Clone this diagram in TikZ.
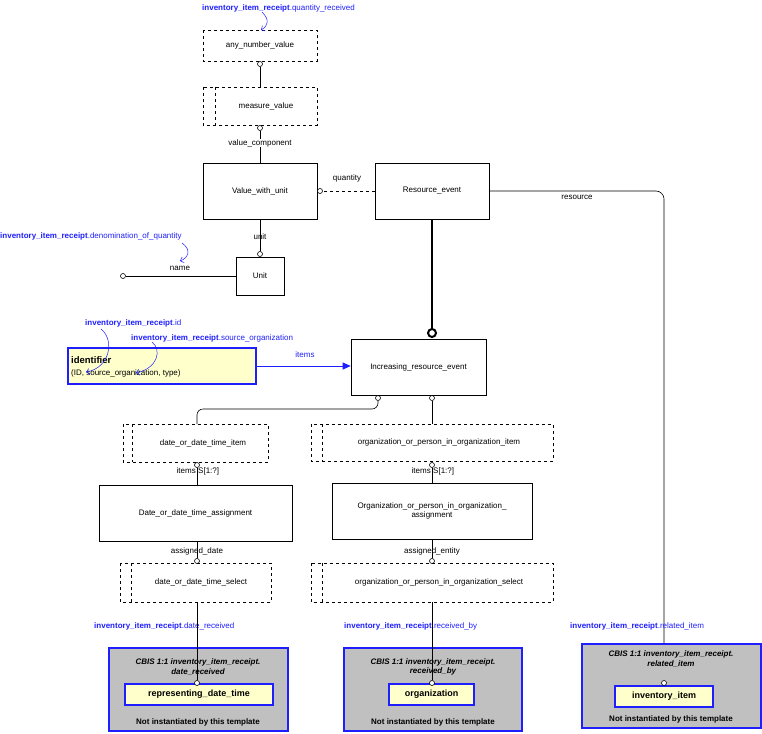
\documentclass[tikz,border=0pt]{standalone}
\usepackage{fontspec}
\setmainfont{Liberation Sans}
\usetikzlibrary{arrows.meta}
\definecolor{lyel}{RGB}{255,255,204}
\definecolor{bl}{RGB}{30,30,255}
\definecolor{gr}{RGB}{192,192,192}
\begin{document}
\begin{tikzpicture}[x=1pt,y=-1pt,
  every node/.style={font=\fontsize{8}{9.5}\selectfont, inner sep=0pt},
  ent/.style={draw, fill=white, line width=0.6pt},
  sel/.style={draw, dashed, line width=0.6pt},
  lab/.style={font=\fontsize{8}{9.5}\selectfont},
  blab/.style={font=\fontsize{8}{9.5}\selectfont, text=bl, anchor=west},
  oc/.style={draw, fill=white, circle, minimum size=5pt, inner sep=0pt, line width=0.6pt},
  ln/.style={line width=0.6pt},
  barr/.style={bl, line width=0.5pt, -{Straight Barb[length=3pt]}},
  cbis/.style={draw=bl, fill=gr, line width=1.2pt},
  yb/.style={draw=bl, fill=lyel, line width=1.2pt}]
\useasboundingbox (0,0) rectangle (762,733);
% selects / entities
\draw[sel] (203,30) rectangle (317,61); \node (anv) at (260,45.5) {any\_number\_value};
\draw[sel] (203,87) rectangle (317,125); \draw[dashed,ln] (215,87) -- (215,125);
\node (mv) at (266,106) {measure\_value};
\node[ent, minimum width=114pt, minimum height=56pt] (vwu) at (260,191) {Value\_with\_unit};
\node[ent, minimum width=114pt, minimum height=56pt] (re) at (432,191) {Resource\_event};
\node[ent, minimum width=48pt, minimum height=38pt] (unit) at (260,276) {Unit};
\node[ent, minimum width=135pt, minimum height=56pt] (ire) at (418.5,367) {Increasing\_resource\_event};
\node[yb, minimum width=188pt, minimum height=36pt] (id) at (162,366) {};
\node[anchor=west, font=\bfseries\fontsize{9.5}{11}\selectfont] at (71,360) {identifier};
\node[anchor=west] at (71,373) {(ID, source\_organization, type)};
% top connectors
\node[oc] (c1) at (260,64) {};
\draw[ln] (c1) -- (260,87);
\node[oc] (c2) at (260,128) {};
\draw[ln] (c2) -- (vwu.north);
\node[lab, fill=white] at (260,143) {value\_component};
\node[oc] (c3) at (320,191) {};
\draw[ln,dashed] (re.west) -- (c3);
\node[lab] at (347,178) {quantity};
\node[oc] (c4) at (260,254) {};
\draw[ln] (vwu.south) -- (c4);
\node[lab] at (260,237) {unit};
\node[oc] (c5) at (123,276) {};
\draw[ln] (unit.west) -- (c5);
\node[lab] at (180,268) {name};
\node[oc, minimum size=8pt, line width=2pt] (c6) at (432,333) {};
\draw[line width=2.5pt] (re.south) -- (c6);
\draw[ln, rounded corners=8pt] (re.east) -- (664,191) -- (664,683);
\node[lab] at (577,197) {resource};
\draw[bl, line width=1pt, -{Triangle[length=8pt,width=7pt]}] (id.east) -- (ire.west |- id.east);
\node[lab, text=bl] at (305,355) {items};
% blue labels
\node[blab] at (202,8) {\textbf{inventory\_item\_receipt}.quantity\_received};
\draw[barr] (262,12) .. controls (270,20) and (268,26) .. (261,30);
\node[blab] at (0,236) {\textbf{inventory\_item\_receipt}.denomination\_of\_quantity};
\draw[barr] (182,243) .. controls (192,250) and (188,258) .. (180,261);
\node[blab] at (85,323) {\textbf{inventory\_item\_receipt}.id};
\node[blab] at (131,338) {\textbf{inventory\_item\_receipt}.source\_organization};
\draw[barr] (101,329) .. controls (115,340) and (110,368) .. (86,372);
\draw[barr] (152,342) .. controls (162,350) and (158,368) .. (136,373);
% lower left chain
\node[oc] (c7) at (378,398) {};
\node[oc] (c8) at (432,398) {};
\draw[ln] (ire.south -| c7) -- (c7);
\draw[ln] (ire.south -| c8) -- (c8);
\draw[ln, rounded corners=6pt] (c7.south) -- (378,409) -- (197,409) -- (197,424);
\draw[sel] (123,424) rectangle (268,462); \draw[dashed,ln] (132,424) -- (132,462);
\node at (203,443) {date\_or\_date\_time\_item};
\draw[sel] (311,424) rectangle (553,461); \draw[dashed,ln] (322,424) -- (322,461);
\node at (439,442.5) {organization\_or\_person\_in\_organization\_item};
\draw[ln] (c8) -- (432,424);
\node[ent, minimum width=193pt, minimum height=56pt] (dda) at (195.5,513) {Date\_or\_date\_time\_assignment};
\node[ent, minimum width=200pt, minimum height=56pt, align=center] (opa) at (432,511) {Organization\_or\_person\_in\_organization\_\\assignment};
\node[oc] (c9) at (197,465) {};
\draw[ln] (c9) -- (197,485);
\node[lab, anchor=east] at (196,471) {items};
\node[lab, anchor=west] at (198,471) {S[1:?]};
\node[oc] (c10) at (432,465) {};
\draw[ln] (c10) -- (opa.north);
\node[lab, anchor=east] at (431,471) {items};
\node[lab, anchor=west] at (433,471) {S[1:?]};
\node[oc] (c11) at (197,561) {};
\draw[ln] (197,541) -- (c11);
\node[lab] at (197,551) {assigned\_date};
\node[oc] (c12) at (432,561) {};
\draw[ln] (opa.south) -- (c12);
\node[lab] at (432,551) {assigned\_entity};
\draw[sel] (120,563) rectangle (271,602); \draw[dashed,ln] (131,563) -- (131,602);
\node at (201,582.5) {date\_or\_date\_time\_select};
\draw[sel] (311,563) rectangle (553,602); \draw[dashed,ln] (322,563) -- (322,602);
\node at (439,582.5) {organization\_or\_person\_in\_organization\_select};
% CBIS boxes
\node[blab] at (94,626) {\textbf{inventory\_item\_receipt}.date\_received};
\node[blab] at (344,626) {\textbf{inventory\_item\_receipt}.received\_by};
\node[blab] at (570,626) {\textbf{inventory\_item\_receipt}.related\_item};
\node[cbis, minimum width=179pt, minimum height=83pt] (b1) at (198.5,689.5) {};
\node[cbis, minimum width=178pt, minimum height=83pt] (b2) at (433,689.5) {};
\node[cbis, minimum width=179pt, minimum height=84pt] (b3) at (671.5,686) {};
\node[font=\bfseries\itshape\fontsize{8}{9.5}\selectfont, align=center] at (198,667) {CBIS 1:1 inventory\_item\_receipt.\\date\_received};
\node[font=\bfseries\itshape\fontsize{8}{9.5}\selectfont, align=center] at (433,667) {CBIS 1:1 inventory\_item\_receipt.\\received\_by};
\node[font=\bfseries\itshape\fontsize{8}{9.5}\selectfont, align=center] at (671,659) {CBIS 1:1 inventory\_item\_receipt.\\related\_item};
\node[yb, minimum width=148pt, minimum height=21pt, font=\bfseries\fontsize{9}{10}\selectfont] (y1) at (199,694.5) {representing\_date\_time};
\node[yb, minimum width=85pt, minimum height=21pt, font=\bfseries\fontsize{9}{10}\selectfont] (y2) at (431.5,694.5) {organization};
\node[yb, minimum width=98pt, minimum height=21pt, font=\bfseries\fontsize{9}{10}\selectfont] (y3) at (664,696.5) {inventory\_item};
\node[font=\bfseries\fontsize{8}{9.5}\selectfont] at (198,722) {Not instantiated by this template};
\node[font=\bfseries\fontsize{8}{9.5}\selectfont] at (433,722) {Not instantiated by this template};
\node[font=\bfseries\fontsize{8}{9.5}\selectfont] at (671,719) {Not instantiated by this template};
\node[oc] (c13) at (197,683) {};
\node[oc] (c14) at (432,683) {};
\node[oc] (c15) at (664,683) {};
\draw[ln] (197,602) -- (c13);
\draw[ln] (432,602) -- (c14);
\end{tikzpicture}
\end{document}
